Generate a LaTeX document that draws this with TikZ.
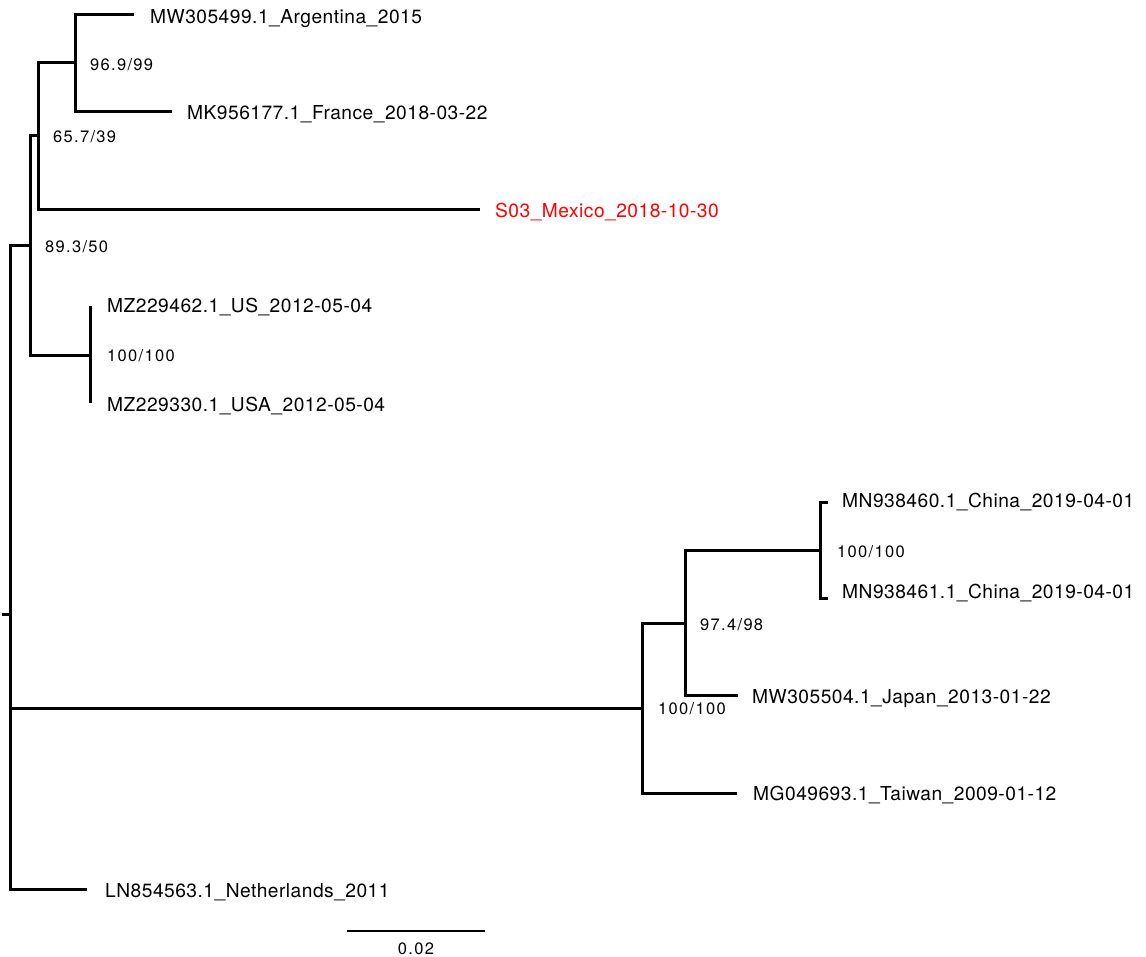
\documentclass[tikz,border=0pt]{standalone}
\usepackage{fontspec}
\setmainfont{TeX Gyre Heros}[LetterSpace=2.5]
\newfontfamily\supfont[LetterSpace=8]{TeX Gyre Heros}
\definecolor{mexred}{RGB}{255,0,0}
\begin{document}
\begin{tikzpicture}[x=1pt,y=-1pt,
  branch/.style={line width=3pt, line join=miter},
  scalebar/.style={line width=1.3pt},
  leaf/.style={anchor=base west, inner sep=0pt, font=\fontsize{19.2}{22}\selectfont},
  support/.style={anchor=base west, inner sep=0pt, font=\supfont\fontsize{16.5}{19}\selectfont}]
\useasboundingbox (0,0) rectangle (1146,957);
% tree coordinates
\coordinate (stub) at (2,614);
\coordinate (root) at (10,614);
\coordinate (nA) at (30,246);
\coordinate (nB) at (38,136);
\coordinate (nD) at (75,63);
\coordinate (tArg) at (134,15);
\coordinate (tFra) at (172,112);
\coordinate (tMex) at (480,210);
\coordinate (nUS) at (90,356);
\coordinate (tUS1) at (90,306);
\coordinate (tUS2) at (90,403);
\coordinate (nC) at (642,708);
\coordinate (nE) at (685,623);
\coordinate (nF) at (820,550);
\coordinate (tCh1) at (828,502);
\coordinate (tCh2) at (828,598);
\coordinate (tJap) at (738,695);
\coordinate (tTai) at (737,793);
\coordinate (tNet) at (87,889);
% branches
\draw[branch] (stub) -- (root);
\draw[branch] (root) |- (nA);
\draw[branch] (root) |- (nC);
\draw[branch] (root) |- (tNet);
\draw[branch] (nA) |- (nB);
\draw[branch] (nA) |- (nUS);
\draw[branch] (nB) |- (nD);
\draw[branch] (nB) |- (tMex);
\draw[branch] (nD) |- (tArg);
\draw[branch] (nD) |- (tFra);
\draw[branch] (nUS) -- (tUS1);
\draw[branch] (nUS) -- (tUS2);
\draw[branch] (nC) |- (nE);
\draw[branch] (nC) |- (tTai);
\draw[branch] (nE) |- (nF);
\draw[branch] (nE) |- (tJap);
\draw[branch] (nF) |- (tCh1);
\draw[branch] (nF) |- (tCh2);
% leaf labels
\node[leaf] (lArg) at (150,24) {MW305499.1\_Argentina\_2015};
\node[leaf] (lFra) at (187,120) {MK956177.1\_France\_2018-03-22};
\node[leaf, text=mexred] (lMex) at (495,218) {S03\_Mexico\_2018-10-30};
\node[leaf] (lUS1) at (107,313) {MZ229462.1\_US\_2012-05-04};
\node[leaf] (lUS2) at (107,412) {MZ229330.1\_USA\_2012-05-04};
\node[leaf] (lCh1) at (842,507) {MN938460.1\_China\_2019-04-01};
\node[leaf] (lCh2) at (842,598) {MN938461.1\_China\_2019-04-01};
\node[leaf] (lJap) at (752,703) {MW305504.1\_Japan\_2013-01-22};
\node[leaf] (lTai) at (753,800) {MG049693.1\_Taiwan\_2009-01-12};
\node[leaf] (lNet) at (105,897) {LN854563.1\_Netherlands\_2011};
% support labels
\node[support] (sD) at (90,71) {96.9/99};
\node[support] (sB) at (53,143) {65.7/39};
\node[support] (sA) at (45,253) {89.3/50};
\node[support] (sUS) at (107,362) {100/100};
\node[support] (sF) at (837,557) {100/100};
\node[support] (sE) at (700,630) {97.4/98};
\node[support] (sC) at (658,714) {100/100};
% scale bar
\coordinate (sb1) at (347,931);
\coordinate (sb2) at (485,931);
\draw[scalebar] (sb1) -- (sb2);
\node[support, anchor=base] (sbl) at (416,954) {0.02};
\end{tikzpicture}
\end{document}
